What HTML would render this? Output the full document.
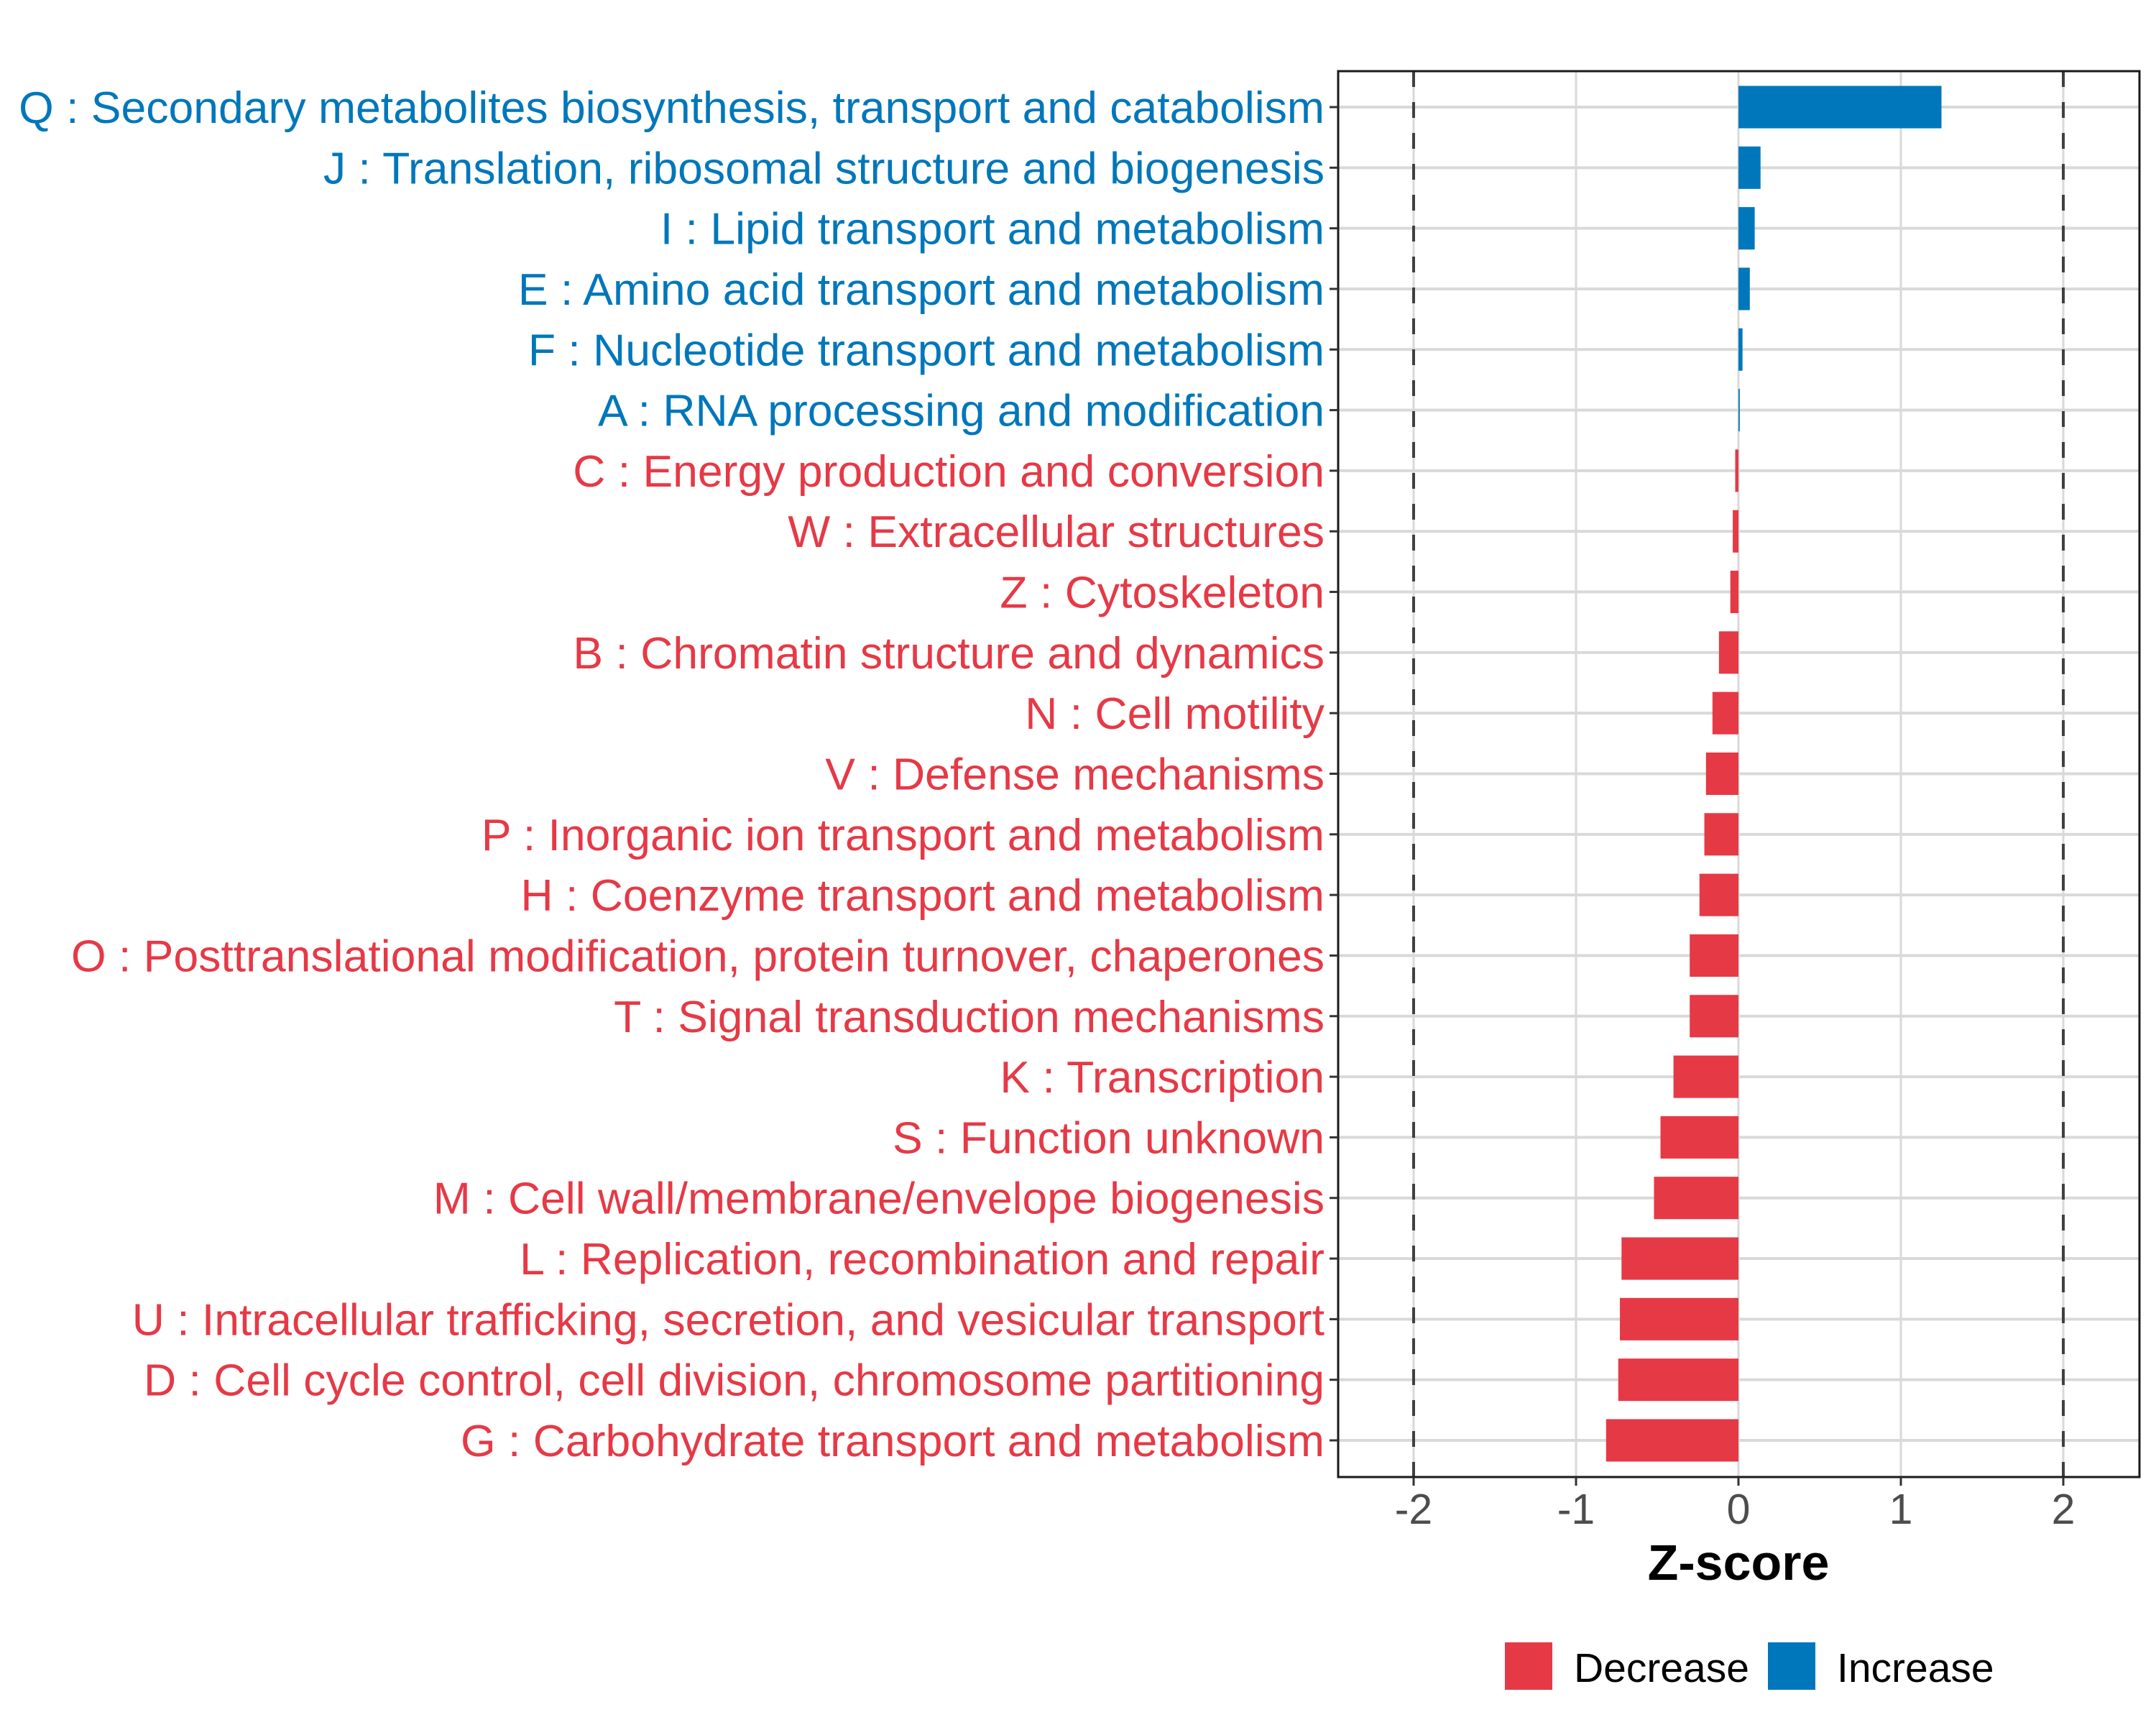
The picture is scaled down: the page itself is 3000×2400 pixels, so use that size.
<!DOCTYPE html>
<html><head><meta charset="utf-8"><style>
html,body{margin:0;padding:0;background:#fff;}
svg{display:block;font-family:"Liberation Sans",Arial,sans-serif;}
</style></head><body>
<svg id="chart" width="3000" height="2400" viewBox="0 0 3000 2400" xmlns="http://www.w3.org/2000/svg">
<rect width="3000" height="2400" fill="#fff"/>
<g id="grid"></g>
<g id="bars"></g>
<g id="refs"></g>
<rect x="1862" y="99" width="1115" height="1956" fill="none" stroke="#1a1a1a" stroke-width="3"/>
<g id="yaxis"></g>
<g id="xaxis"></g>
<text x="2419" y="2198" text-anchor="middle" font-size="70" font-weight="bold" fill="#000">Z-score</text>
<g>
<g>
<rect x="2094" y="2285" width="66" height="66" fill="#E63946"/>
<text x="2190" y="2340" font-size="57" fill="#000">Decrease</text>
</g>
<g>
<rect x="2460" y="2285" width="66" height="66" fill="#0077BB"/>
<text x="2556" y="2340" font-size="57" fill="#000">Increase</text>
</g>
</g>
</svg>
<script>
const categories = [
"Q : Secondary metabolites biosynthesis, transport and catabolism",
"J : Translation, ribosomal structure and biogenesis",
"I : Lipid transport and metabolism",
"E : Amino acid transport and metabolism",
"F : Nucleotide transport and metabolism",
"A : RNA processing and modification",
"C : Energy production and conversion",
"W : Extracellular structures",
"Z : Cytoskeleton",
"B : Chromatin structure and dynamics",
"N : Cell motility",
"V : Defense mechanisms",
"P : Inorganic ion transport and metabolism",
"H : Coenzyme transport and metabolism",
"O : Posttranslational modification, protein turnover, chaperones",
"T : Signal transduction mechanisms",
"K : Transcription",
"S : Function unknown",
"M : Cell wall/membrane/envelope biogenesis",
"L : Replication, recombination and repair",
"U : Intracellular trafficking, secretion, and vesicular transport",
"D : Cell cycle control, cell division, chromosome partitioning",
"G : Carbohydrate transport and metabolism"];
const zscores = [1.25,0.136,0.10,0.07,0.025,0.008,-0.02,-0.035,-0.05,-0.12,-0.16,-0.2,-0.21,-0.24,-0.3,-0.3,-0.4,-0.48,-0.52,-0.72,-0.73,-0.74,-0.815];
const xTicks = [-2,-1,0,1,2];
const xTickLabels = ["-2","-1","0","1","2"];
const refLines = [-2,2];

const NS="http://www.w3.org/2000/svg";
const X0=2419, UNIT=226, PT=99, PB=2055, PL=1862, PR=2977;
const ROW0=149, STEP=(2004-149)/22;
function xs(v){return X0+v*UNIT;}
function ys(i){return ROW0+i*STEP;}
function mk(tag,attrs,parent){const e=document.createElementNS(NS,tag);for(const k in attrs)e.setAttribute(k,attrs[k]);parent.appendChild(e);return e;}
const grid=document.getElementById('grid'),bars=document.getElementById('bars'),refs=document.getElementById('refs'),yaxis=document.getElementById('yaxis'),xaxis=document.getElementById('xaxis');
const RED="#E63946",BLUE="#0077BB";
xTicks.forEach((t,i)=>{
  const l=mk('line',{x1:xs(t),x2:xs(t),y1:PT,y2:PB,stroke:"#D9D9D9","stroke-width":3},grid);
  
  
  const tk=mk('line',{x1:xs(t),x2:xs(t),y1:PB,y2:PB+12,stroke:"#333","stroke-width":3},xaxis);
  
  
  const tx=mk('text',{x:xs(t),y:2120,"text-anchor":"middle","font-size":59,fill:"#4D4D4D"},xaxis);
  tx.textContent=xTickLabels[i];
  
  
});
categories.forEach((c,i)=>{
  const y=ys(i);
  const g=mk('line',{x1:PL,x2:PR,y1:y,y2:y,stroke:"#D9D9D9","stroke-width":4},grid);
  
  
  const v=zscores[i], h=STEP*0.7;
  const r=mk('rect',{x:Math.min(xs(0),xs(v)),y:y-h/2,width:Math.abs(xs(v)-xs(0)),height:h,fill:v>=0?BLUE:RED},bars);
  
  
  const tk=mk('line',{x1:PL-12,x2:PL,y1:y,y2:y,stroke:"#333","stroke-width":3},yaxis);
  
  
  const t=mk('text',{x:1843,y:y+22,"text-anchor":"end","font-size":62.5,fill:v>=0?BLUE:RED},yaxis);
  t.textContent=c;
  
  
});
refLines.forEach(v=>{
  const l=mk('line',{x1:xs(v),x2:xs(v),y1:PT,y2:PB,stroke:"#404040","stroke-width":4,"stroke-dasharray":"22,21"},refs);
  
  
});
</script>
</body></html>
